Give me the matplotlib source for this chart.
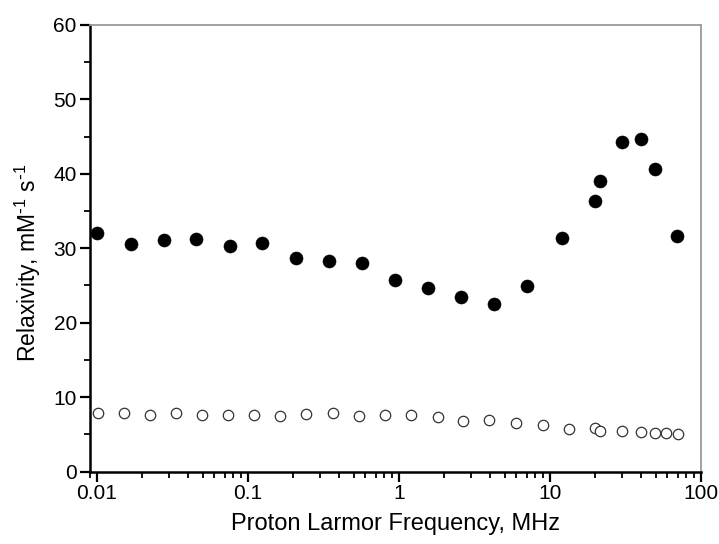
import matplotlib
matplotlib.use("Agg")
import matplotlib.pyplot as plt
from matplotlib.ticker import LogLocator, FixedLocator, MultipleLocator, FuncFormatter

plt.rcParams['font.family'] = ['Liberation Sans', 'DejaVu Sans']
plt.rcParams['mathtext.default'] = 'regular'

freq_filled = [0.01, 0.0168, 0.0276, 0.0456, 0.0764, 0.124, 0.208, 0.343, 0.566, 0.948,
               1.56, 2.58, 4.26, 7.03, 12.0, 20.0, 21.4, 30.0, 39.9, 49.5, 69.6]
relax_filled = [32.1, 30.6, 31.1, 31.2, 30.3, 30.7, 28.7, 28.3, 28.0, 25.7,
                24.7, 23.4, 22.5, 24.9, 31.4, 36.3, 39.0, 44.3, 44.7, 40.7, 31.65]

freq_open = [0.0101, 0.0150, 0.0223, 0.0333, 0.0494, 0.0738, 0.109, 0.164, 0.244, 0.363,
             0.541, 0.806, 1.20, 1.80, 2.66, 3.95, 6.0, 9.0, 13.4, 20.0, 21.4,
             30.0, 40.0, 49.5, 59.0, 70.0]
relax_open = [7.8, 7.8, 7.6, 7.8, 7.6, 7.6, 7.6, 7.5, 7.7, 7.8,
              7.5, 7.6, 7.6, 7.3, 6.8, 6.9, 6.5, 6.2, 5.7, 5.8, 5.5,
              5.4, 5.3, 5.2, 5.2, 5.1]

xticks = [0.01, 0.1, 1, 10, 100]
xtick_labels = ['0.01', '0.1', '1', '10', '100']
yticks = [0, 10, 20, 30, 40, 50, 60]

W, H = 719, 544
fig = plt.figure(figsize=(W/100, H/100), dpi=100)
ax = fig.add_axes([90/W, 1-471.5/H, (701-90)/W, (471.5-25)/H])

ax.plot(freq_open, relax_open, linestyle='none', marker='o', markersize=7.5,
        markerfacecolor='white', markeredgecolor='#333333', markeredgewidth=0.9,
        zorder=3, clip_on=False)
ax.plot(freq_filled, relax_filled, linestyle='none', marker='o', markersize=9.4,
        markerfacecolor='black', markeredgecolor='black', markeredgewidth=0.4,
        zorder=4, clip_on=False)

ax.set_xscale('log')
ax.set_xlim(0.00899, 100)
ax.set_ylim(0, 60)
ax.xaxis.set_major_locator(FixedLocator(xticks))
ax.set_xticklabels(xtick_labels)
ax.xaxis.set_minor_locator(LogLocator(base=10, subs=range(2, 10), numticks=20))
ax.xaxis.set_minor_formatter(FuncFormatter(lambda v, p: ''))
ax.yaxis.set_major_locator(FixedLocator(yticks))
ax.yaxis.set_minor_locator(MultipleLocator(5))

for s in ['left', 'bottom']:
    ax.spines[s].set_linewidth(1.8)
    ax.spines[s].set_color('black')
for s in ['top', 'right']:
    ax.spines[s].set_linewidth(1.3)
    ax.spines[s].set_color('#9a9a9a')

ax.tick_params(axis='both', which='major', direction='out', length=7.5, width=1.6,
               labelsize=15, colors='black')
ax.tick_params(axis='both', which='minor', direction='out', length=4, width=1.3)
ax.tick_params(axis='x', which='major', pad=1.5)
ax.tick_params(axis='y', which='major', pad=2)

ax.set_xlabel('Proton Larmor Frequency, MHz', fontsize=17, labelpad=7)
ax.set_ylabel(r'Relaxivity, mM$^{\text{-}1}$ s$^{\text{-}1}$', fontsize=16.5)
ax.yaxis.set_label_coords(-0.077, 0.467)

fig.savefig('out.png', dpi=100)
